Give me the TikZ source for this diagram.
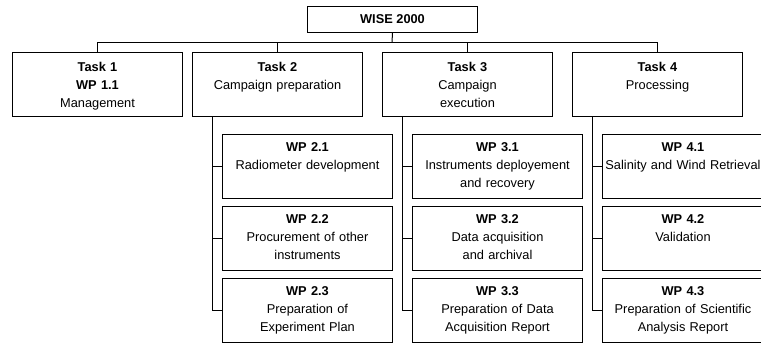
\documentclass[tikz,border=0pt]{standalone}
\usepackage{fontspec}
\setmainfont{Liberation Sans}
\usetikzlibrary{calc}

\begin{document}
\begin{tikzpicture}[x=0.75pt,y=-0.75pt]

    % Box style
    \tikzset{
        link/.style={line width=0.75pt},
        top/.style={draw,line width=0.75pt,anchor=north west,minimum width=127.5pt,
            minimum height=19.5pt,inner sep=0pt,font=\fontsize{9.6}{13.5}\selectfont\bfseries},
        task/.style={draw,line width=0.75pt,anchor=north west,inner xsep=2pt,inner ysep=0pt,
            text width=123.5pt,align=center,text height=14pt,text depth=34pt,
            font=\fontsize{9.6}{13.5}\selectfont},
        wp/.style={task,text height=12.75pt,text depth=35.25pt},
        wpcut/.style={wp,text width=116.75pt}
    }

    \useasboundingbox (0,0) rectangle (761,343);
    \clip (0,0) rectangle (761,343);

    % Project
    \node[top] (WISE) at (307,6) {WISE 2000};

    % Tasks
    \node[task] (T1) at (12,52) {\textbf{Task 1}\\\textbf{WP 1.1}\\Management};
    \node[task] (T2) at (192,52) {\textbf{Task 2}\\Campaign preparation};
    \node[task] (T3) at (382,52) {\textbf{Task 3}\\Campaign\\execution};
    \node[task] (T4) at (572,52) {\textbf{Task 4}\\Processing};

    % Work packages
    \node[wp] (WP21) at (222,134) {\textbf{WP 2.1}\\Radiometer development};
    \node[wp] (WP22) at (222,206) {\textbf{WP 2.2}\\Procurement of other\\instruments};
    \node[wp] (WP23) at (222,278) {\textbf{WP 2.3}\\Preparation of\\Experiment Plan};
    \node[wp] (WP31) at (412,134) {\textbf{WP 3.1}\\Instruments deployement\\and recovery};
    \node[wp] (WP32) at (412,206) {\textbf{WP 3.2}\\Data acquisition\\and archival};
    \node[wp] (WP33) at (412,278) {\textbf{WP 3.3}\\Preparation of Data\\Acquisition Report};
    \node[wpcut] (WP41) at (602,134) {\textbf{WP 4.1}\\Salinity and Wind Retrieval};
    \node[wpcut] (WP42) at (602,206) {\textbf{WP 4.2}\\Validation};
    \node[wpcut] (WP43) at (602,278) {\textbf{WP 4.3}\\Preparation of Scientific\\Analysis Report};

    % Links
    \coordinate (BUS) at (392,42);
    \draw[link] (WISE.south) -- (BUS);
    \foreach \t in {T1,T2,T3,T4}
        \draw[link] (BUS) -| (\t.north);
    \foreach \k in {2,3,4} {
        \coordinate (S\k) at ($(T\k.south west)+(20,0)$);
        \draw[link] (S\k) |- (WP\k3.west);
        \draw[link] (S\k |- WP\k1.west) -- (WP\k1.west);
        \draw[link] (S\k |- WP\k2.west) -- (WP\k2.west);
    }
\end{tikzpicture}
\end{document}
